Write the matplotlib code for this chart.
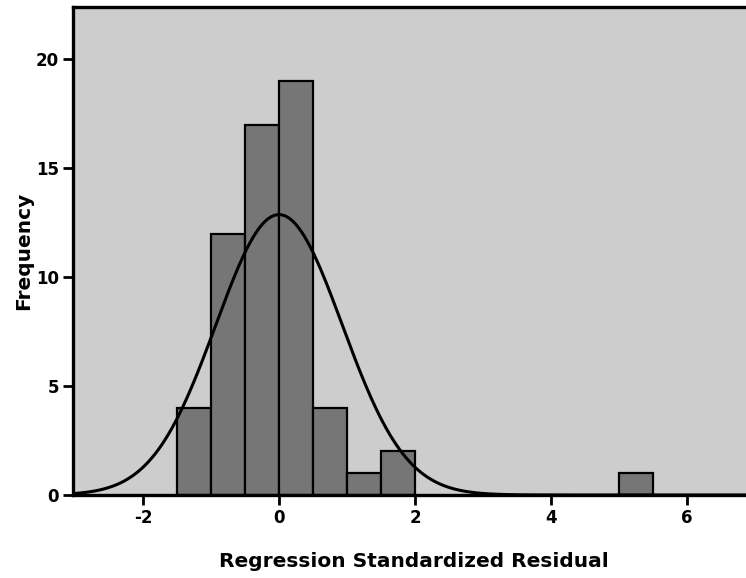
import numpy as np
import matplotlib
matplotlib.use('Agg')
import matplotlib.pyplot as plt

# histogram of regression standardized residuals (bin width 0.5)
binLeft = [-1.5, -1.0, -0.5, 0.0, 0.5, 1.0, 1.5, 5.0]
freq = [4, 12, 17, 19, 4, 1, 2, 1]
binWidth = 0.5
nObs = 60
resMean = 0.0
resStd = 0.93

yTicks = [0, 5, 10, 15, 20]
xTicks = [-2, 0, 2, 4, 6]

plt.rcParams['font.family'] = ['DejaVu Sans']
plt.rcParams['font.weight'] = 'bold'
plt.rcParams['axes.unicode_minus'] = False

fig = plt.figure(figsize=(7.46, 5.78), dpi=100)
ax = fig.add_axes([73/746, 83/578, 682/746, 488/578])
ax.set_facecolor('#cdcdcd')

ax.bar(binLeft, freq, width=binWidth, align='edge',
       color='#767676', edgecolor='black', linewidth=1.6, zorder=2)

xEval = np.linspace(-3.03, 7.0, 400)
yHat = nObs * binWidth / (resStd * np.sqrt(2*np.pi)) * np.exp(-0.5*((xEval - resMean)/resStd)**2)
ax.plot(xEval, yHat, color='black', linewidth=2.2, zorder=3)

ax.set_xlim(-3.03, 7.0)
ax.set_ylim(0, 22.4)
ax.set_xticks(xTicks)
ax.set_yticks(yTicks)
ax.tick_params(axis='both', direction='out', length=7, width=2, labelsize=12, pad=3)
for lab in ax.get_xticklabels() + ax.get_yticklabels():
    lab.set_fontweight('bold')

for side in ['left', 'top', 'bottom']:
    ax.spines[side].set_linewidth(2.4)
ax.spines['right'].set_visible(False)

ax.set_xlabel('Regression Standardized Residual', fontsize=14.5, fontweight='bold', labelpad=18)
ax.set_ylabel('Frequency', fontsize=14.5, fontweight='bold', labelpad=2)

fig.savefig('out.png', dpi=100)
